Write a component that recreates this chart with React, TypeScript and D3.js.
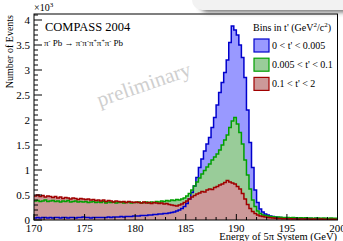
import React from "react";
import * as d3 from "d3";

const binStart = 170;
const binWidth = 0.25;
const xTicks = [170, 175, 180, 185, 190, 195, 200];
const yTicks = [0, 0.5, 1, 1.5, 2, 2.5, 3, 3.5, 4];

const seriesNames = ["0 < t' < 0.005", "0.005 < t' < 0.1", "0.1 < t' < 2"];

// values in units of 10^3 events, 0.25 GeV bins from 170 to 200
const blueValues = [
  0.04, 0.05, 0.04, 0.05, 0.05, 0.04, 0.05, 0.04, 0.05, 0.05, 0.04, 0.05, 0.05, 0.04, 0.05, 0.05, 0.04, 0.05, 0.05, 0.06,
  0.05, 0.05, 0.04, 0.05, 0.05, 0.05, 0.05, 0.05, 0.05, 0.06, 0.05, 0.06, 0.06, 0.06, 0.07, 0.06, 0.07, 0.07, 0.07, 0.08,
  0.08, 0.08, 0.09, 0.09, 0.09, 0.1, 0.1, 0.11, 0.11, 0.12, 0.12, 0.13, 0.13, 0.14, 0.15, 0.16, 0.18, 0.2, 0.23, 0.27,
  0.33, 0.42, 0.55, 0.68, 0.85, 1.05, 1.22, 1.38, 1.52, 1.65, 1.85, 2.05, 2.3, 2.55, 2.75, 2.95, 3.2, 3.55, 3.88, 3.8,
  3.7, 3.5, 3.25, 2.85, 2.2, 1.55, 1.05, 0.6, 0.35, 0.22, 0.16, 0.12, 0.1, 0.08, 0.07, 0.06, 0.05, 0.05, 0.045, 0.04,
  0.04, 0.035, 0.04, 0.035, 0.03, 0.035, 0.03, 0.03, 0.025, 0.03, 0.025, 0.03, 0.025, 0.025, 0.02, 0.025, 0.02, 0.025, 0.02, 0.02,
];
const greenValues = [
  0.38, 0.39, 0.37, 0.38, 0.4, 0.37, 0.38, 0.39, 0.37, 0.38, 0.36, 0.38, 0.37, 0.39, 0.36, 0.37, 0.38, 0.36, 0.37, 0.36,
  0.37, 0.35, 0.36, 0.37, 0.35, 0.36, 0.35, 0.37, 0.34, 0.36, 0.35, 0.36, 0.34, 0.35, 0.36, 0.34, 0.35, 0.36, 0.34, 0.35,
  0.35, 0.36, 0.34, 0.35, 0.36, 0.34, 0.36, 0.35, 0.37, 0.36, 0.38, 0.37, 0.39, 0.38, 0.4, 0.39, 0.41, 0.4, 0.42, 0.44,
  0.48, 0.53, 0.6, 0.68, 0.76, 0.84, 0.92, 0.99, 1.06, 1.12, 1.2, 1.26, 1.32, 1.4, 1.5, 1.6, 1.7, 1.85, 1.98, 2.05,
  1.92, 1.75, 1.52, 1.2, 0.9, 0.62, 0.4, 0.27, 0.18, 0.13, 0.1, 0.09, 0.08, 0.07, 0.065, 0.06, 0.06, 0.055, 0.05, 0.05,
  0.05, 0.045, 0.05, 0.045, 0.04, 0.045, 0.04, 0.045, 0.04, 0.04, 0.035, 0.04, 0.04, 0.035, 0.04, 0.035, 0.035, 0.04, 0.035, 0.035,
];
const redValues = [
  0.48, 0.5, 0.47, 0.49, 0.46, 0.48, 0.47, 0.45, 0.47, 0.44, 0.46, 0.43, 0.45, 0.44, 0.42, 0.44, 0.43, 0.41, 0.43, 0.42,
  0.41, 0.42, 0.4, 0.41, 0.39, 0.4, 0.38, 0.4, 0.37, 0.39, 0.38, 0.36, 0.38, 0.37, 0.36, 0.37, 0.35, 0.37, 0.36, 0.35,
  0.36, 0.35, 0.34, 0.36, 0.34, 0.35, 0.33, 0.35, 0.34, 0.33, 0.34, 0.32, 0.33, 0.31, 0.3, 0.29, 0.28, 0.3, 0.32, 0.35,
  0.38, 0.42, 0.46, 0.49, 0.52, 0.54, 0.57, 0.56, 0.6, 0.62, 0.61, 0.65, 0.67, 0.7, 0.72, 0.75, 0.79, 0.76, 0.74, 0.72,
  0.67, 0.62, 0.53, 0.42, 0.31, 0.23, 0.17, 0.13, 0.1, 0.08, 0.07, 0.06, 0.05, 0.045, 0.04, 0.035, 0.03, 0.03, 0.025, 0.025,
  0.02, 0.025, 0.02, 0.02, 0.015, 0.02, 0.02, 0.015, 0.02, 0.015, 0.02, 0.015, 0.015, 0.02, 0.015, 0.015, 0.01, 0.015, 0.015, 0.01,
];

const series = [
  { name: seriesNames[0], values: blueValues, fill: "#9999ff", stroke: "#0000cc" },
  { name: seriesNames[1], values: greenValues, fill: "#99cc99", stroke: "#00a000" },
  { name: seriesNames[2], values: redValues, fill: "#cc9999", stroke: "#a00000" },
];

const W = 343;
const H = 241;
const left = 34;
const right = 337.5;
const top = 14;
const bottom = 220;

export default function App() {
  const x = d3.scaleLinear().domain([170, 200]).range([left, right]);
  const y = d3.scaleLinear().domain([0, 4.12]).range([bottom, top]);

  const toPts = (vals: number[]) => {
    const pts: [number, number][] = vals.map((v, i) => [binStart + i * binWidth, v]);
    pts.push([binStart + vals.length * binWidth, vals[vals.length - 1]]);
    return pts;
  };
  const area = d3
    .area<[number, number]>()
    .x((d) => x(d[0]))
    .y0(y(0))
    .y1((d) => y(d[1]))
    .curve(d3.curveStepAfter);
  const line = d3
    .line<[number, number]>()
    .x((d) => x(d[0]))
    .y((d) => y(d[1]))
    .curve(d3.curveStepAfter);

  const yMinor = d3.range(0, 4.11, 0.1);
  const xMinor = d3.range(170, 200.01, 1);
  const font = "'Liberation Serif', 'DejaVu Serif', serif";

  return (
    <svg width={W} height={H} style={{ position: "absolute", left: 0, top: 0 }} fontFamily={font}>
      <defs>
        <filter id="blur" x="-20%" y="-50%" width="140%" height="200%">
          <feGaussianBlur stdDeviation="2.5" />
        </filter>
        <clipPath id="plotclip">
          <rect x={left} y={top} width={right - left} height={bottom - top} />
        </clipPath>
      </defs>
      <rect width={W} height={H} fill="#fff" />
      <g clipPath="url(#plotclip)">
        {series.map((s) => (
          <path key={s.name + "a"} d={area(toPts(s.values)) || ""} fill={s.fill} />
        ))}
        {series.map((s) => (
          <path key={s.name + "l"} d={line(toPts(s.values)) || ""} fill="none" stroke={s.stroke} strokeWidth={1.5} />
        ))}
      </g>
      {/* frame */}
      <rect x={left} y={top} width={right - left} height={bottom - top} fill="none" stroke="#000" strokeWidth={1} />
      {/* y ticks */}
      {yMinor.map((v, i) => (
        <line key={"ym" + i} x1={left} x2={left + (i % 5 === 0 ? 8 : 4)} y1={y(v)} y2={y(v)} stroke="#000" strokeWidth={1} />
      ))}
      {yTicks.map((v) => (
        <text key={"yt" + v} x={30} y={y(v) + 4} textAnchor="end" fontSize={11}>
          {v}
        </text>
      ))}
      {/* x ticks */}
      {xMinor.map((v, i) => (
        <line key={"xm" + i} x1={x(v)} x2={x(v)} y1={bottom} y2={bottom - (i % 5 === 0 ? 6 : 3)} stroke="#000" strokeWidth={1} />
      ))}
      {xTicks.map((v) => (
        <text key={"xt" + v} x={x(v)} y={232} textAnchor="middle" fontSize={11}>
          {v}
        </text>
      ))}
      <text x={34} y={11} fontSize={10}>
        ×10<tspan dy={-4} fontSize={7}>3</tspan>
      </text>
      <text transform="translate(13,15) rotate(-90)" textAnchor="end" fontSize={10}>
        Number of Events
      </text>
      <text x={337} y={240} textAnchor="end" fontSize={10.5}>
        Energy of 5π System (GeV)
      </text>
      <text x={45} y={31} fontSize={12.5}>
        COMPASS 2004
      </text>
      <text x={44} y={46} fontSize={9}>
        π<tspan dy={-3} fontSize={6}>-</tspan>
        <tspan dy={3}> Pb → π</tspan>
        <tspan dy={-3} fontSize={6}>-</tspan>
        <tspan dy={3}>π</tspan>
        <tspan dy={-3} fontSize={6}>-</tspan>
        <tspan dy={3}>π</tspan>
        <tspan dy={-3} fontSize={6}>+</tspan>
        <tspan dy={3}>π</tspan>
        <tspan dy={-3} fontSize={6}>+</tspan>
        <tspan dy={3}>π</tspan>
        <tspan dy={-3} fontSize={6}>-</tspan>
        <tspan dy={3}> Pb</tspan>
      </text>
      <text transform="translate(146,91) rotate(-19)" textAnchor="middle" fontSize={21} fill="#cfcfcf">
        preliminary
      </text>
      {/* legend */}
      <text x={253} y={31} fontSize={10}>
        Bins in t' (GeV<tspan dy={-4} fontSize={7}>2</tspan>
        <tspan dy={4}>/c</tspan>
        <tspan dy={-4} fontSize={7}>2</tspan>
        <tspan dy={4}>)</tspan>
      </text>
      {series.map((s, i) => (
        <g key={"lg" + i} transform={`translate(0,${i * 19.2})`}>
          <rect x={254} y={39} width={15} height={13} fill={s.fill} stroke={s.stroke} strokeWidth={1.2} />
          <text x={272} y={49} fontSize={10}>
            {s.name}
          </text>
        </g>
      ))}
      {/* gray overlay shadow at top right */}
      <rect x={200} y={-12} width={160} height={24} rx={8} fill="#444" filter="url(#blur)" opacity={0.8} />
      <rect x={192} y={-20} width={170} height={30} rx={10} fill="#f2f2f2" />
    </svg>
  );
}
